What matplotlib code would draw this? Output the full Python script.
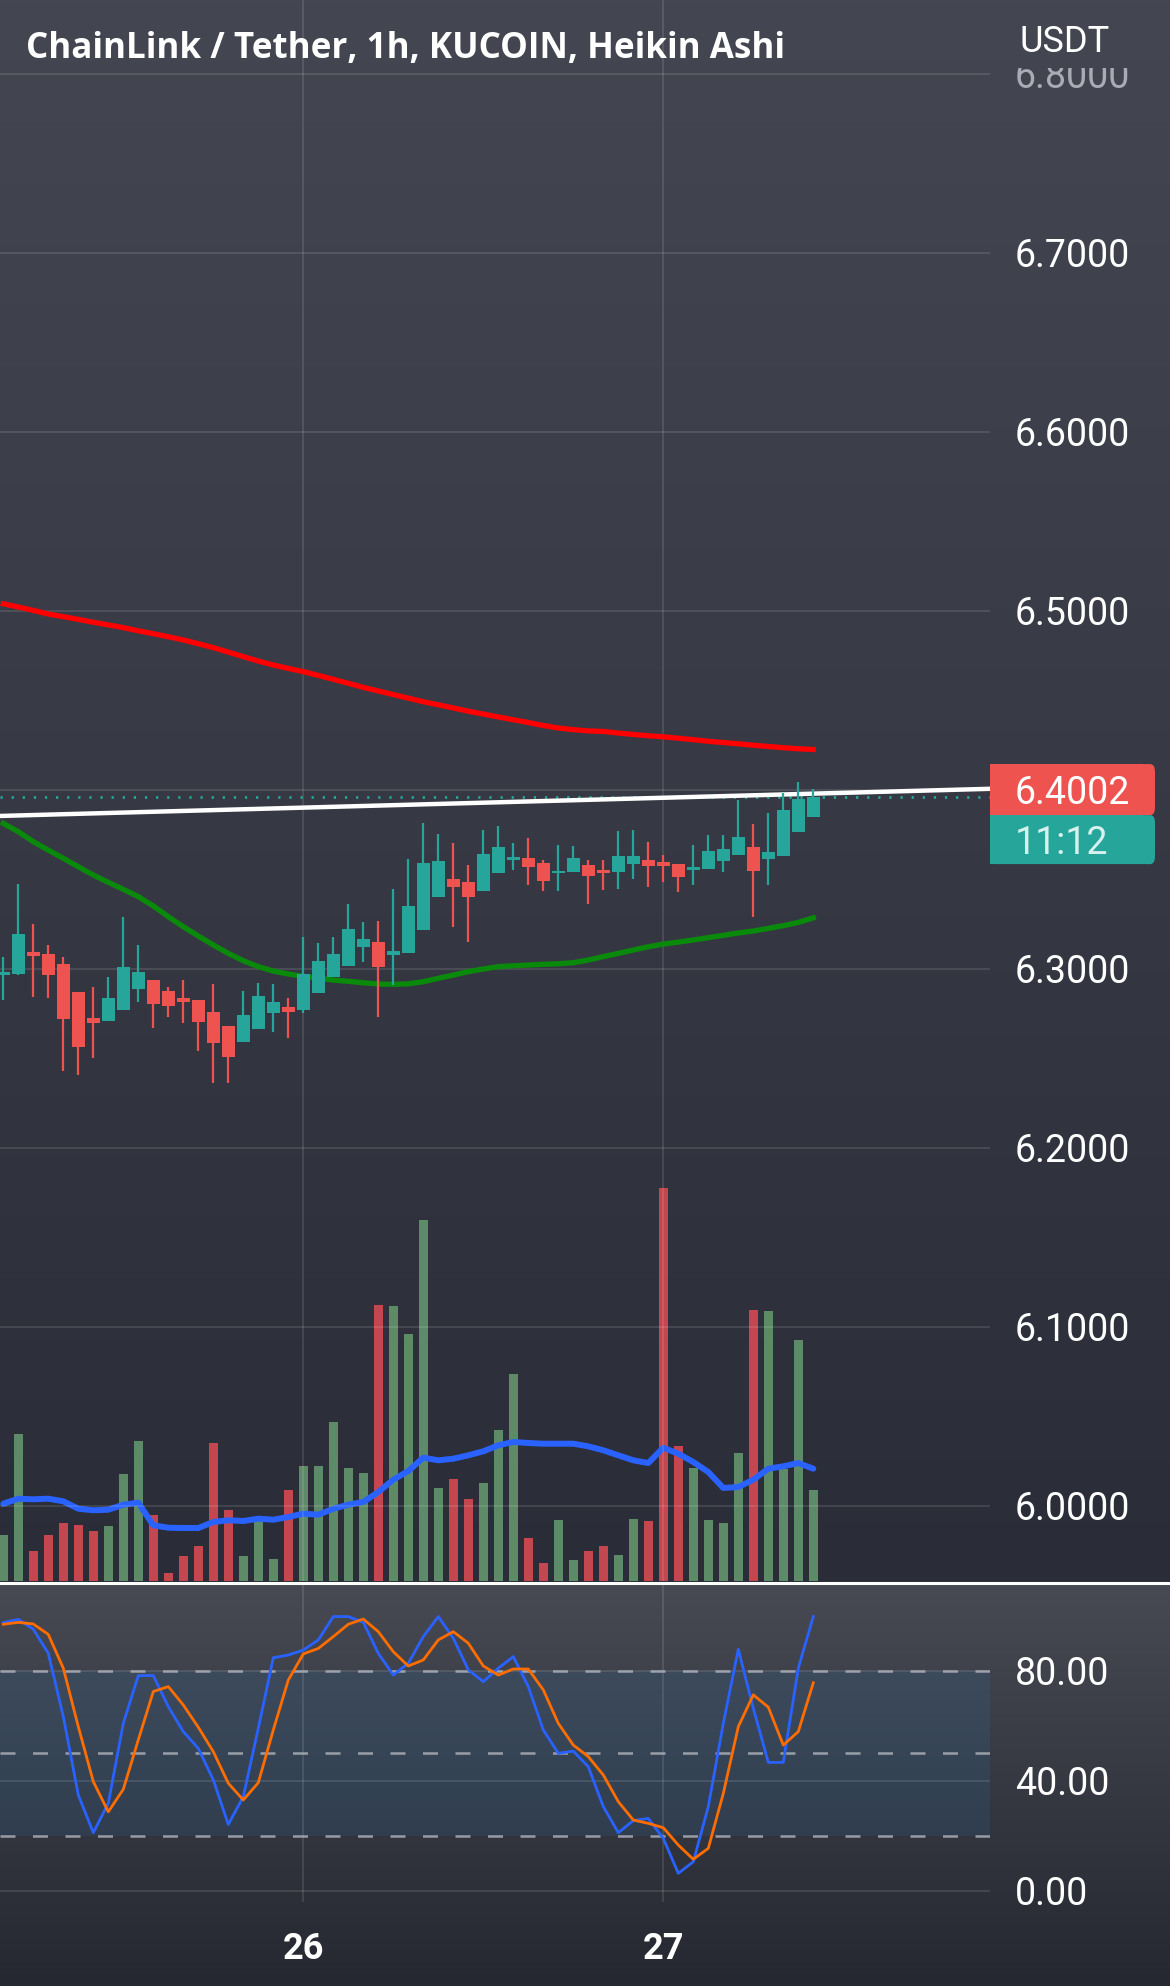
import matplotlib
matplotlib.use('Agg')
import matplotlib.pyplot as plt
import numpy as np
from matplotlib import font_manager
from matplotlib.patches import FancyBboxPatch, Rectangle
from matplotlib.lines import Line2D
from matplotlib.transforms import Bbox, TransformedBbox

# LINK/USDT 1h Heikin Ashi, 25 Jan 04:00 -> 27 Jan 10:00 (bar 20 = 26th 00:00, bar 44 = 27th 00:00)
ha_open = [6.2966, 6.2970, 6.3093, 6.3083, 6.3028, 6.2869, 6.2724, 6.2711, 6.2771, 6.2888,
           6.2938, 6.2879, 6.2840, 6.2827, 6.2761, 6.2681, 6.2590, 6.2665, 6.2756, 6.2786,
           6.2771, 6.2867, 6.2957, 6.3016, 6.3121, 6.3149, 6.3078, 6.3087, 6.3218, 6.3404,
           6.3502, 6.3484, 6.3437, 6.3538, 6.3609, 6.3618, 6.3590, 6.3534, 6.3543, 6.3581,
           6.3553, 6.3543, 6.3586, 6.3609, 6.3596, 6.3586, 6.3553, 6.3556, 6.3605, 6.3636,
           6.3683, 6.3614, 6.3633, 6.3763, 6.3851]
ha_high = [6.3069, 6.3473, 6.3251, 6.3134, 6.3065, 6.2869, 6.2897, 6.2957, 6.3292, 6.3134,
           6.2938, 6.2897, 6.2938, 6.2827, 6.2916, 6.2681, 6.2879, 6.2923, 6.2916, 6.2836,
           6.3177, 6.3143, 6.3177, 6.3363, 6.3264, 6.3270, 6.3445, 6.3612, 6.3817, 6.3754,
           6.3705, 6.3581, 6.3776, 6.3798, 6.3702, 6.3730, 6.3609, 6.3692, 6.3687, 6.3609,
           6.3609, 6.3771, 6.3776, 6.3711, 6.3636, 6.3586, 6.3692, 6.3748, 6.3748, 6.3944,
           6.3810, 6.3869, 6.3981, 6.4046, 6.4003]
ha_low = [6.2827, 6.2968, 6.2845, 6.2836, 6.2432, 6.2408, 6.2501, 6.2711, 6.2771, 6.2817,
          6.2668, 6.2730, 6.2696, 6.2544, 6.2361, 6.2361, 6.2590, 6.2665, 6.2650, 6.2612,
          6.2752, 6.2867, 6.2957, 6.3016, 6.3041, 6.2733, 6.2910, 6.3087, 6.3218, 6.3404,
          6.3232, 6.3152, 6.3437, 6.3538, 6.3553, 6.3469, 6.3437, 6.3437, 6.3543, 6.3363,
          6.3441, 6.3445, 6.3502, 6.3460, 6.3484, 6.3432, 6.3469, 6.3556, 6.3543, 6.3636,
          6.3292, 6.3469, 6.3633, 6.3763, 6.3851]
ha_close = [6.2985, 6.3195, 6.3072, 6.2966, 6.2718, 6.2566, 6.2700, 6.2836, 6.3009, 6.2981,
            6.2804, 6.2795, 6.2813, 6.2705, 6.2584, 6.2510, 6.2743, 6.2849, 6.2813, 6.2758,
            6.2972, 6.3044, 6.3083, 6.3221, 6.3169, 6.3009, 6.3098, 6.3352, 6.3590, 6.3603,
            6.3460, 6.3400, 6.3640, 6.3683, 6.3627, 6.3568, 6.3493, 6.3549, 6.3618, 6.3519,
            6.3534, 6.3633, 6.3631, 6.3575, 6.3577, 6.3512, 6.3568, 6.3659, 6.3668, 6.3735,
            6.3549, 6.3651, 6.3888, 6.3947, 6.3962]

volume = [45.7, 147.3, 29.7, 45.7, 58.3, 55.7, 49.7, 54.7, 106.7, 140.0,
          66.3, 8.3, 24.7, 34.7, 138.3, 70.7, 24.7, 60.7, 21.7, 90.7,
          114.7, 114.7, 159.0, 113.3, 108.3, 275.7, 274.7, 247.3, 360.7, 93.3,
          102.3, 82.3, 98.3, 151.3, 206.7, 43.0, 18.3, 61.3, 21.3, 29.7,
          34.7, 26.3, 62.3, 59.7, 393.3, 134.7, 113.0, 61.3, 58.3, 128.3,
          271.3, 269.7, 112.0, 241.3, 91.3]
volume_ma = [77.3, 82.3, 81.7, 82.3, 79.7, 72.3, 70.7, 71.3, 76.3, 78.3,
             55.7, 53.3, 53.0, 53.0, 59.0, 60.7, 60.0, 62.3, 61.3, 64.0,
             67.3, 66.3, 72.3, 76.3, 79.0, 89.0, 101.3, 110.0, 123.3, 120.7,
             122.3, 125.7, 129.7, 135.7, 139.0, 138.0, 137.3, 137.3, 137.3, 134.7,
             130.7, 125.7, 120.7, 118.0, 133.3, 127.3, 119.0, 109.0, 93.0, 94.0,
             101.3, 112.3, 114.7, 118.0, 112.3]

ma_red = [6.5040, 6.5022, 6.5003, 6.4983, 6.4968, 6.4953, 6.4937, 6.4922, 6.4907, 6.4889,
          6.4873, 6.4856, 6.4838, 6.4817, 6.4795, 6.4770, 6.4745, 6.4720, 6.4698, 6.4679,
          6.4661, 6.4640, 6.4618, 6.4596, 6.4573, 6.4553, 6.4533, 6.4513, 6.4493, 6.4476,
          6.4458, 6.4440, 6.4424, 6.4408, 6.4392, 6.4377, 6.4360, 6.4346, 6.4337, 6.4330,
          6.4327, 6.4318, 6.4310, 6.4303, 6.4297, 6.4289, 6.4281, 6.4272, 6.4265, 6.4258,
          6.4250, 6.4243, 6.4236, 6.4230, 6.4226]
ma_green = [6.3813, 6.3767, 6.3711, 6.3664, 6.3618, 6.3571, 6.3525, 6.3484, 6.3445, 6.3404,
            6.3352, 6.3292, 6.3236, 6.3184, 6.3134, 6.3087, 6.3046, 6.3013, 6.2988, 6.2972,
            6.2959, 6.2949, 6.2938, 6.2931, 6.2923, 6.2916, 6.2914, 6.2917, 6.2929, 6.2948,
            6.2966, 6.2985, 6.3000, 6.3013, 6.3018, 6.3022, 6.3026, 6.3029, 6.3035, 6.3050,
            6.3069, 6.3087, 6.3106, 6.3124, 6.3139, 6.3150, 6.3162, 6.3175, 6.3188, 6.3201,
            6.3212, 6.3227, 6.3242, 6.3260, 6.3286]

stoch_k = [97.6, 98.8, 95.2, 86.4, 63.4, 34.8, 21.1, 31.8, 60.9, 78.3,
           78.3, 67.0, 57.9, 51.8, 40.3, 24.1, 34.2, 59.1, 84.8, 85.8,
           87.6, 91.3, 99.8, 99.8, 97.7, 86.4, 78.5, 82.8, 92.5, 99.8,
           91.9, 80.4, 76.1, 81.0, 85.2, 74.3, 58.5, 50.0, 50.8, 45.1,
           30.6, 21.1, 25.5, 26.3, 19.0, 6.3, 10.5, 30.6, 60.9, 87.9,
           66.4, 46.7, 46.7, 81.0, 99.8]
stoch_d = [97.0, 97.7, 97.1, 93.3, 81.0, 59.7, 39.7, 28.7, 36.9, 54.9,
           72.5, 74.3, 67.6, 59.5, 50.6, 39.1, 33.0, 39.3, 58.5, 76.7,
           86.2, 88.2, 92.5, 97.0, 98.9, 94.3, 87.0, 81.8, 84.0, 91.3,
           94.3, 90.1, 81.8, 78.5, 80.7, 80.7, 73.1, 60.9, 53.0, 48.8,
           42.1, 32.4, 25.7, 24.5, 22.9, 16.6, 11.4, 15.4, 35.4, 59.7,
           71.3, 66.8, 53.0, 57.9, 75.7]

trend_x = [-1, 66]
trend_y = [6.3853, 6.4007]

last_price = 6.4002
countdown = '11:12'
price_ticks = [6.0, 6.1, 6.2, 6.3, 6.4, 6.5, 6.6, 6.7, 6.8]
stoch_ticks = [0, 40, 80]
stoch_levels = [20, 50, 80]
day_ticks = [20, 44]
day_labels = ['26', '27']

TITLE = 'ChainLink / Tether, 1h, KUCOIN, Heikin Ashi'
UP = '#26a69a'
DOWN = '#ef5350'
VOL_UP = '#5d8b68'
VOL_DOWN = '#c4464f'

W, H = 1170, 1986
installed = {f.name for f in font_manager.fontManager.ttflist}
title_font = 'Liberation Sans Narrow' if 'Liberation Sans Narrow' in installed else 'Open Sans'


def rect(x0, y0, x1, y1):
    # pixel box measured from the top-left corner -> figure fraction
    return [x0 / W, 1 - y1 / H, (x1 - x0) / W, (y1 - y0) / H]


def vgrad(c0, c1, n):
    t = np.linspace(0, 1, n)[:, None]
    return np.array(c0)[None, :] * (1 - t) + np.array(c1)[None, :] * t


fig = plt.figure(figsize=(W / 100, H / 100), dpi=100)

# background: each pane has its own dark vertical gradient
grad = np.vstack([vgrad((68, 71, 81), (42, 45, 55), 1583),
                  vgrad((72, 74, 83), (37, 40, 48), H - 1583)])[:, None, :] / 255
bg = fig.add_axes([0, 0, 1, 1], zorder=0)
bg.imshow(grad, aspect='auto', extent=(0, 1, 0, 1))
bg.axis('off')

bars = np.arange(len(ha_open))
xlim = (-0.22, 65.78)

# volume overlay (under the price pane)
vax = fig.add_axes(rect(0, 0, 990, 1581), zorder=1)
vax.patch.set_visible(False)
vcolors = [VOL_UP if c >= o else VOL_DOWN for o, c in zip(ha_open, ha_close)]
vax.bar(bars, volume, width=0.62, color=vcolors)
vax.plot(bars, volume_ma, color='#2962ff', lw=4.3, solid_capstyle='round')
vax.set_xlim(*xlim)
vax.set_ylim(0, max(volume) * 4.02)
vax.axis('off')

# price pane
ax = fig.add_axes(rect(0, 0, 990, 1581), zorder=2)
ax.patch.set_visible(False)
ax.set_xlim(*xlim)
ax.set_ylim(5.9581, 6.8413)
for s in ax.spines.values():
    s.set_visible(False)
ax.set_axisbelow(True)
ax.set_xticks(day_ticks)
ax.yaxis.tick_right()
ax.set_yticks(price_ticks)
ax.set_yticklabels(['{:.4f}'.format(p) for p in price_ticks[:-1]] + [''])
ax.tick_params(axis='x', length=0, labelbottom=False)
ax.tick_params(axis='y', length=0, pad=18, labelsize=27, labelcolor='white')
for lbl in ax.get_yticklabels():
    lbl.set_fontfamily('Roboto')
ax.grid(True, color='white', alpha=0.11, lw=1.5)

ax.plot(bars, ma_red, color='#ff0000', lw=3.8, zorder=2)
ax.plot(bars, ma_green, color='#0a8a0a', lw=3.8, zorder=2)
ax.plot(trend_x, trend_y, color='white', lw=3.2, zorder=2.5)
ax.axhline(ha_close[-1], color=UP, lw=2, ls=(0, (0.8, 3.2)), zorder=2.4)

ccolors = [UP if c >= o else DOWN for o, c in zip(ha_open, ha_close)]
ax.vlines(bars, ha_low, ha_high, colors=ccolors, lw=1.6, zorder=4)
body_lo = np.minimum(ha_open, ha_close)
body_h = np.maximum(np.abs(np.array(ha_close) - np.array(ha_open)), 0.0006)
ax.bar(bars, body_h, bottom=body_lo, width=0.85, color=ccolors, zorder=4)

# stochastic pane
sax = fig.add_axes(rect(0, 1585, 990, 1902), zorder=2)
sax.patch.set_visible(False)
sax.set_xlim(*xlim)
sax.set_ylim(-4.15, 111.3)
for s in sax.spines.values():
    s.set_visible(False)
sax.set_axisbelow(True)
sax.axhspan(stoch_levels[0], stoch_levels[-1], color='#2196f3', alpha=0.1, lw=0)
for lv in stoch_levels:
    sax.axhline(lv, color='#b2b5be', alpha=0.8, lw=1.8, ls=(0, (6, 7)))
sax.plot(bars, stoch_k, color='#2962ff', lw=2)
sax.plot(bars, stoch_d, color='#ff6d00', lw=2)
sax.yaxis.tick_right()
sax.set_yticks(stoch_ticks)
sax.set_yticklabels(['{:.2f}'.format(v) for v in stoch_ticks])
sax.set_xticks(day_ticks)
sax.set_xticklabels(day_labels)
sax.tick_params(axis='y', length=0, pad=18, labelsize=27, labelcolor='white')
sax.tick_params(axis='x', length=0, pad=21, labelsize=26, labelcolor='white')
for lbl in sax.get_yticklabels():
    lbl.set_fontfamily('Roboto')
for lbl in sax.get_xticklabels():
    lbl.set_fontfamily('Roboto')
    lbl.set_fontweight('bold')
sax.grid(True, color='white', alpha=0.11, lw=1.5)

# pane separator
sep_y = 1 - 1582.5 / H
fig.add_artist(Line2D([0, 1], [sep_y, sep_y], color='white', lw=2.2))

# header texts
title = fig.text(26 / W, 1 - 49 / H, TITLE, fontsize=26, fontweight='bold',
                 family=title_font, color='white', va='center', ha='left')
fig.canvas.draw()
tw = title.get_window_extent().width
title.set_fontsize(26 * 761 / tw)

fig.text(1020 / W, 1 - 42 / H, 'USDT', fontsize=26, family='Roboto',
         color='white', va='center', ha='left')
top_lbl = fig.text(1015 / W, 1 - 74 / H, '6.8000', fontsize=27, family='Roboto',
                   color='#a9acb4', va='center_baseline', ha='left')
top_lbl.set_clip_box(TransformedBbox(Bbox([[0, 0], [1, 1 - 68 / H]]), fig.transFigure))
top_lbl.set_clip_on(True)

# last price / countdown box on the price scale
y_pix = ax.transData.transform((0, last_price))[1]
x0, x1 = 990, 1155
red_lo, red_hi = y_pix - 25.5, y_pix + 25.5
teal_lo = red_lo - 49
for lo, hi, col in [(red_lo, red_hi, DOWN), (teal_lo, red_lo, UP)]:
    fig.add_artist(FancyBboxPatch((x0 / W, lo / H), (x1 - x0) / W, (hi - lo) / H,
                                  boxstyle='round,pad=0,rounding_size=0.004',
                                  fc=col, ec='none', zorder=5))
    fig.add_artist(Rectangle((x0 / W, lo / H), (x1 - x0 - 12) / W, (hi - lo) / H,
                             fc=col, ec='none', zorder=5))
fig.text(1015 / W, y_pix / H, '{:.4f}'.format(last_price), fontsize=27, family='Roboto',
         color='white', va='center_baseline', ha='left', zorder=6)
fig.text(1015 / W, (red_lo - 24.5) / H, countdown, fontsize=27, family='Roboto',
         color='#d8f1ee', va='center_baseline', ha='left', zorder=6)

fig.savefig('out.png', dpi=100)
